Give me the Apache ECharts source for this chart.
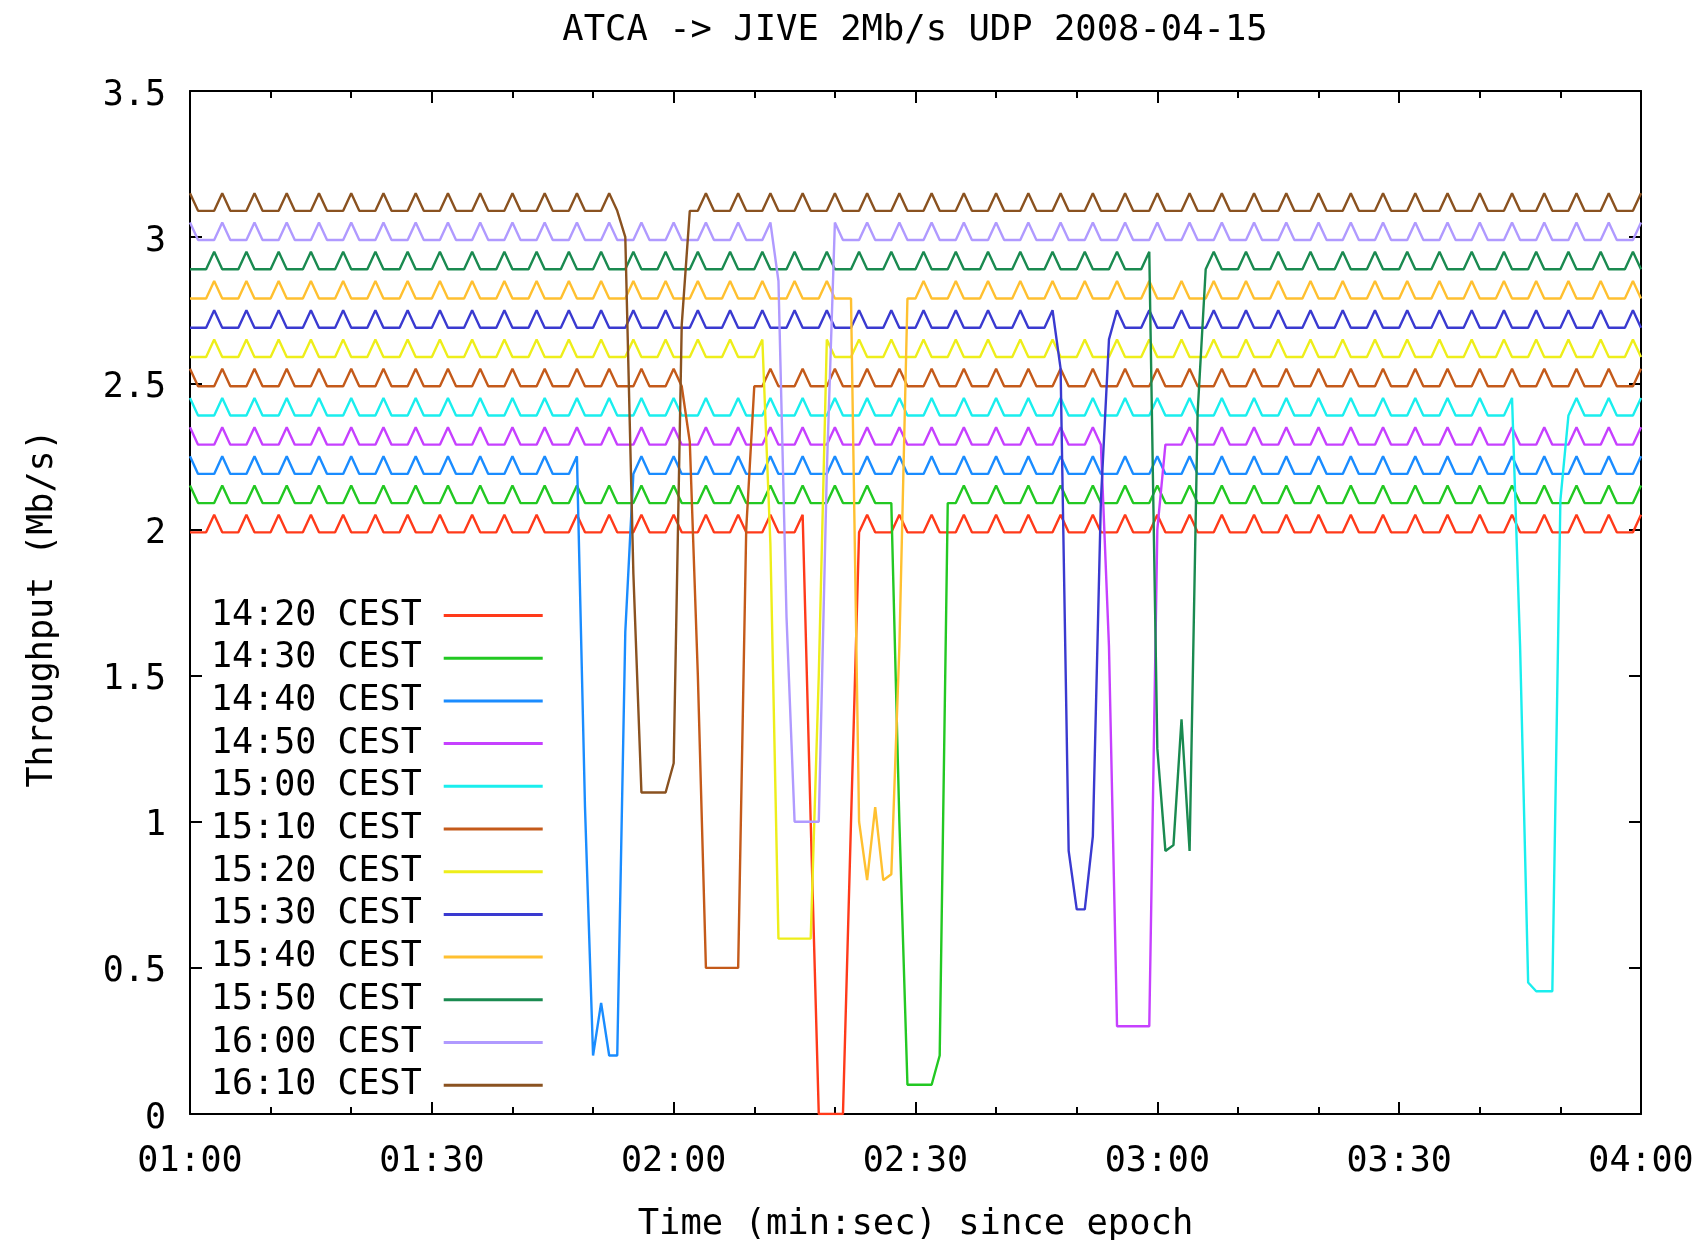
<!DOCTYPE html>
<html>
<head>
<meta charset="utf-8">
<title>ATCA -> JIVE 2Mb/s UDP 2008-04-15</title>
<script src="https://cdn.jsdelivr.net/npm/echarts@6/dist/echarts.min.js"></script>
<style>
  html, body { margin: 0; padding: 0; background: #fff; }
  #chart { width: 1698px; height: 1240px; }
</style>
</head>
<body>
<div id="chart"></div>
<script>
// one sample per second, first sample at 01:00 (60 s), last at 04:00 (240 s)
// values are in hundredths of Mb/s
const startSec = 60

const s1420 = [
  199,199,199,205,199,199,199,205,199,199,199,205,199,199,199,205,199,199,199,205, // 60
  199,199,199,205,199,199,199,205,199,199,199,205,199,199,199,205,199,199,199,205, // 80
  199,199,199,205,199,199,199,199,205,199,199,199,205,199,199,199,205,199,199,199, // 100
  205,199,199,199,205,199,199,199,205,199,199,199,205,199,199,199,205,100,0,0,     // 120
  0,0,100,199,205,199,199,199,205,199,199,199,205,199,199,199,205,199,199,199,     // 140
  205,199,199,199,205,199,199,199,205,199,199,199,205,199,199,199,205,199,199,199, // 160
  205,199,199,199,205,199,199,199,205,199,199,199,205,199,199,199,205,199,199,199, // 180
  205,199,199,199,205,199,199,199,205,199,199,199,205,199,199,199,205,199,199,199, // 200
  205,199,199,199,205,199,199,199,205,199,199,199,205,199,199,199,205,199,199,199, // 220
  205
]
const s1430 = [
  215,209,209,209,215,209,209,209,215,209,209,209,215,209,209,209,215,209,209,209,
  215,209,209,209,215,209,209,209,215,209,209,209,215,209,209,209,215,209,209,209,
  215,209,209,209,215,209,209,209,215,209,209,209,215,209,209,209,215,209,209,209,
  215,209,209,209,215,209,209,209,215,209,209,209,215,209,209,209,215,209,209,209,
  215,209,209,209,215,209,209,209,100,10,10,10,10,20,209,209,215,209,209,209,
  215,209,209,209,215,209,209,209,215,209,209,209,215,209,209,209,215,209,209,209,
  215,209,209,209,215,209,209,209,215,209,209,209,215,209,209,209,215,209,209,209,
  215,209,209,209,215,209,209,209,215,209,209,209,215,209,209,209,215,209,209,209,
  215,209,209,209,215,209,209,209,215,209,209,209,215,209,209,209,215,209,209,209,
  215
]
const s1440 = [
  225,219,219,219,225,219,219,219,225,219,219,219,225,219,219,219,225,219,219,219,
  225,219,219,219,225,219,219,219,225,219,219,219,225,219,219,219,225,219,219,219,
  225,219,219,219,225,219,219,219,225,105,20,38,20,20,165,219,225,219,219,219,
  225,219,219,219,225,219,219,219,225,219,219,219,225,219,219,219,225,219,219,219,
  225,219,219,219,225,219,219,219,225,219,219,219,225,219,219,219,225,219,219,219,
  225,219,219,219,225,219,219,219,225,219,219,219,225,219,219,219,225,219,219,219,
  225,219,219,219,225,219,219,219,225,219,219,219,225,219,219,219,225,219,219,219,
  225,219,219,219,225,219,219,219,225,219,219,219,225,219,219,219,225,219,219,219,
  225,219,219,219,225,219,219,219,225,219,219,219,225,219,219,219,225,219,219,219,
  225
]
const s1450 = [
  235,229,229,229,235,229,229,229,235,229,229,229,235,229,229,229,235,229,229,229,
  235,229,229,229,235,229,229,229,235,229,229,229,235,229,229,229,235,229,229,229,
  235,229,229,229,235,229,229,229,235,229,229,229,235,229,229,229,235,229,229,229,
  235,229,229,229,235,229,229,229,235,229,229,229,235,229,229,229,235,229,229,229,
  235,229,229,229,235,229,229,229,235,229,229,229,235,229,229,229,235,229,229,229,
  235,229,229,229,235,229,229,229,235,229,229,229,235,229,160,30,30,30,30,30,
  200,229,229,229,235,229,229,229,235,229,229,229,235,229,229,229,235,229,229,229,
  235,229,229,229,235,229,229,229,235,229,229,229,235,229,229,229,235,229,229,229,
  235,229,229,229,235,229,229,229,235,229,229,229,235,229,229,229,235,229,229,229,
  235
]
const s1500 = [
  245,239,239,239,245,239,239,239,245,239,239,239,245,239,239,239,245,239,239,239,
  245,239,239,239,245,239,239,239,245,239,239,239,245,239,239,239,245,239,239,239,
  245,239,239,239,245,239,239,239,245,239,239,239,245,239,239,239,245,239,239,239,
  245,239,239,239,245,239,239,239,245,239,239,239,245,239,239,239,245,239,239,239,
  245,239,239,239,245,239,239,239,245,239,239,239,245,239,239,239,245,239,239,239,
  245,239,239,239,245,239,239,239,245,239,239,239,245,239,239,239,245,239,239,239,
  245,239,239,239,245,239,239,239,245,239,239,239,245,239,239,239,245,239,239,239,
  245,239,239,239,245,239,239,239,245,239,239,239,245,239,239,239,245,239,239,239,
  245,239,239,239,245,160,45,42,42,42,210,239,245,239,239,239,245,239,239,239,
  245
]
const s1510 = [
  255,249,249,249,255,249,249,249,255,249,249,249,255,249,249,249,255,249,249,249,
  255,249,249,249,255,249,249,249,255,249,249,249,255,249,249,249,255,249,249,249,
  255,249,249,249,255,249,249,249,255,249,249,249,255,249,249,249,255,249,249,249,
  255,249,230,150,50,50,50,50,50,200,249,249,255,249,249,249,255,249,249,249,
  255,249,249,249,255,249,249,249,255,249,249,249,255,249,249,249,255,249,249,249,
  255,249,249,249,255,249,249,249,255,249,249,249,255,249,249,249,255,249,249,249,
  255,249,249,249,255,249,249,249,255,249,249,249,255,249,249,249,255,249,249,249,
  255,249,249,249,255,249,249,249,255,249,249,249,255,249,249,249,255,249,249,249,
  255,249,249,249,255,249,249,249,255,249,249,249,255,249,249,249,255,249,249,249,
  255
]
const s1520 = [
  259,259,259,265,259,259,259,265,259,259,259,265,259,259,259,265,259,259,259,265,
  259,259,259,265,259,259,259,265,259,259,259,265,259,259,259,265,259,259,259,265,
  259,259,259,265,259,259,259,265,259,259,259,265,259,259,259,265,259,259,259,265,
  259,259,259,265,259,259,259,265,259,259,259,265,195,60,60,60,60,60,150,265,
  259,259,259,265,259,259,259,265,259,259,259,265,259,259,259,265,259,259,259,265,
  259,259,259,265,259,259,259,265,259,259,259,265,259,259,259,265,259,259,259,265,
  259,259,259,265,259,259,259,265,259,259,259,265,259,259,259,265,259,259,259,265,
  259,259,259,265,259,259,259,265,259,259,259,265,259,259,259,265,259,259,259,265,
  259,259,259,265,259,259,259,265,259,259,259,265,259,259,259,265,259,259,259,265,
  259
]
const s1530 = [
  269,269,269,275,269,269,269,275,269,269,269,275,269,269,269,275,269,269,269,275,
  269,269,269,275,269,269,269,275,269,269,269,275,269,269,269,275,269,269,269,275,
  269,269,269,275,269,269,269,275,269,269,269,275,269,269,269,275,269,269,269,275,
  269,269,269,275,269,269,269,275,269,269,269,275,269,269,269,275,269,269,269,275,
  269,269,269,275,269,269,269,275,269,269,269,275,269,269,269,275,269,269,269,275,
  269,269,269,275,269,269,269,275,255,90,70,70,95,210,265,275,269,269,269,275,
  269,269,269,275,269,269,269,275,269,269,269,275,269,269,269,275,269,269,269,275,
  269,269,269,275,269,269,269,275,269,269,269,275,269,269,269,275,269,269,269,275,
  269,269,269,275,269,269,269,275,269,269,269,275,269,269,269,275,269,269,269,275,
  269
]
const s1540 = [
  279,279,279,285,279,279,279,285,279,279,279,285,279,279,279,285,279,279,279,285,
  279,279,279,285,279,279,279,285,279,279,279,285,279,279,279,285,279,279,279,285,
  279,279,279,285,279,279,279,285,279,279,279,285,279,279,279,285,279,279,279,285,
  279,279,279,285,279,279,279,285,279,279,279,285,279,279,279,285,279,279,279,285,
  279,279,279,100,80,105,80,82,160,279,279,285,279,279,279,285,279,279,279,285,
  279,279,279,285,279,279,279,285,279,279,279,285,279,279,279,285,279,279,279,285,
  279,279,279,285,279,279,279,285,279,279,279,285,279,279,279,285,279,279,279,285,
  279,279,279,285,279,279,279,285,279,279,279,285,279,279,279,285,279,279,279,285,
  279,279,279,285,279,279,279,285,279,279,279,285,279,279,279,285,279,279,279,285,
  279
]
const s1550 = [
  289,289,289,295,289,289,289,295,289,289,289,295,289,289,289,295,289,289,289,295,
  289,289,289,295,289,289,289,295,289,289,289,295,289,289,289,295,289,289,289,295,
  289,289,289,295,289,289,289,295,289,289,289,295,289,289,289,295,289,289,289,295,
  289,289,289,295,289,289,289,295,289,289,289,295,289,289,289,295,289,289,289,295,
  289,289,289,295,289,289,289,295,289,289,289,295,289,289,289,295,289,289,289,295,
  289,289,289,295,289,289,289,295,289,289,289,295,289,289,289,295,289,289,289,295,
  125,90,92,135,90,240,289,295,289,289,289,295,289,289,289,295,289,289,289,295,
  289,289,289,295,289,289,289,295,289,289,289,295,289,289,289,295,289,289,289,295,
  289,289,289,295,289,289,289,295,289,289,289,295,289,289,289,295,289,289,289,295,
  289
]
const s1600 = [
  305,299,299,299,305,299,299,299,305,299,299,299,305,299,299,299,305,299,299,299,
  305,299,299,299,305,299,299,299,305,299,299,299,305,299,299,299,305,299,299,299,
  305,299,299,299,305,299,299,299,305,299,299,299,305,299,299,299,305,299,299,299,
  305,299,299,299,305,299,299,299,305,299,299,299,305,285,170,100,100,100,100,220,
  305,299,299,299,305,299,299,299,305,299,299,299,305,299,299,299,305,299,299,299,
  305,299,299,299,305,299,299,299,305,299,299,299,305,299,299,299,305,299,299,299,
  305,299,299,299,305,299,299,299,305,299,299,299,305,299,299,299,305,299,299,299,
  305,299,299,299,305,299,299,299,305,299,299,299,305,299,299,299,305,299,299,299,
  305,299,299,299,305,299,299,299,305,299,299,299,305,299,299,299,305,299,299,299,
  305
]
const s1610 = [
  315,309,309,309,315,309,309,309,315,309,309,309,315,309,309,309,315,309,309,309,
  315,309,309,309,315,309,309,309,315,309,309,309,315,309,309,309,315,309,309,309,
  315,309,309,309,315,309,309,309,315,309,309,309,315,309,300,185,110,110,110,110,
  120,270,309,309,315,309,309,309,315,309,309,309,315,309,309,309,315,309,309,309,
  315,309,309,309,315,309,309,309,315,309,309,309,315,309,309,309,315,309,309,309,
  315,309,309,309,315,309,309,309,315,309,309,309,315,309,309,309,315,309,309,309,
  315,309,309,309,315,309,309,309,315,309,309,309,315,309,309,309,315,309,309,309,
  315,309,309,309,315,309,309,309,315,309,309,309,315,309,309,309,315,309,309,309,
  315,309,309,309,315,309,309,309,315,309,309,309,315,309,309,309,315,309,309,309,
  315
]

const seriesNames = [
  '14:20 CEST', '14:30 CEST', '14:40 CEST', '14:50 CEST', '15:00 CEST', '15:10 CEST',
  '15:20 CEST', '15:30 CEST', '15:40 CEST', '15:50 CEST', '16:00 CEST', '16:10 CEST'
]
const seriesValues = [s1420, s1430, s1440, s1450, s1500, s1510, s1520, s1530, s1540, s1550, s1600, s1610]
// gnuplot png palette
const seriesColors = [
  '#ff3a1a', '#22c822', '#1a8cff', '#c640ff', '#1aeeee', '#c45a1a',
  '#eeee1a', '#3a3ad0', '#ffc030', '#1a8a50', '#b09aff', '#8a5220'
]

const FONT = 'DejaVu Sans Mono'

function mmss (sec) {
  let m = Math.floor(sec / 60)
  let s = Math.round(sec % 60)
  return (m < 10 ? '0' : '') + m + ':' + (s < 10 ? '0' : '') + s
}

let series = seriesValues.map((vals, k) => ({
  name: seriesNames[k],
  type: 'line',
  symbol: 'none',
  showSymbol: false,
  data: vals.map((v, i) => [startSec + i, v / 100]),
  color: seriesColors[k],
  lineStyle: { width: 2.4, color: seriesColors[k] },
  emphasis: { disabled: true },
  animation: false
}))

// x axes: bottom with labels, top mirrored ticks only
function xAxisOf (pos, labels) {
  return {
    type: 'value',
    position: pos,
    min: 60,
    max: 240,
    interval: 30,
    axisLine: { show: true, onZero: false, lineStyle: { color: '#000', width: 2 } },
    axisTick: { show: true, inside: true, length: 12, lineStyle: { color: '#000', width: 2 } },
    minorTick: { show: true, splitNumber: 3, length: 7, lineStyle: { color: '#000', width: 2 } },
    splitLine: { show: false },
    axisLabel: {
      show: labels,
      margin: 30,
      color: '#000',
      fontFamily: FONT,
      fontSize: 35,
      formatter: mmss
    },
    name: labels ? 'Time (min:sec) since epoch' : '',
    nameLocation: 'middle',
    nameGap: 93,
    nameTextStyle: { color: '#000', fontFamily: FONT, fontSize: 35.5 }
  }
}

function yAxisOf (pos, labels) {
  return {
    type: 'value',
    position: pos,
    min: 0,
    max: 3.5,
    interval: 0.5,
    axisLine: { show: true, onZero: false, lineStyle: { color: '#000', width: 2 } },
    axisTick: { show: true, inside: true, length: 12, lineStyle: { color: '#000', width: 2 } },
    splitLine: { show: false },
    axisLabel: {
      show: labels,
      margin: 24,
      formatter: v => '{n|' + v + '}',
      rich: {
        n: { color: '#000', fontFamily: FONT, fontSize: 35, padding: [9, 0, 0, 0] }
      }
    },
    name: labels ? 'Throughput (Mb/s)' : '',
    nameLocation: 'middle',
    nameRotate: 90,
    nameGap: 130,
    nameTextStyle: { color: '#000', fontFamily: FONT, fontSize: 35, padding: [0, 12, 0, 0] }
  }
}

let chart = echarts.init(document.getElementById('chart'), null, { renderer: 'canvas' })
chart.setOption({
  backgroundColor: '#fff',
  animation: false,
  title: {
    text: 'ATCA -> JIVE 2Mb/s UDP 2008-04-15',
    left: 915,
    top: 13,
    textAlign: 'center',
    padding: 0,
    textStyle: { color: '#000', fontFamily: FONT, fontSize: 35.5, fontWeight: 'normal' }
  },
  grid: { left: 190, right: 57, top: 91, bottom: 126, outerBoundsMode: 'none' },
  legend: {
    data: seriesNames,
    orient: 'vertical',
    left: 211,
    top: 598,
    align: 'right',
    icon: 'rect',
    itemWidth: 99,
    itemHeight: 3,
    itemGap: 7.7,
    padding: 0,
    selectedMode: false,
    textStyle: { color: '#000', fontFamily: FONT, fontSize: 35, lineHeight: 34, padding: [0, 17, 0, 0] }
  },
  xAxis: [xAxisOf('bottom', true), xAxisOf('top', false)],
  yAxis: [yAxisOf('left', true), yAxisOf('right', false)],
  series: series
})
</script>
</body>
</html>
